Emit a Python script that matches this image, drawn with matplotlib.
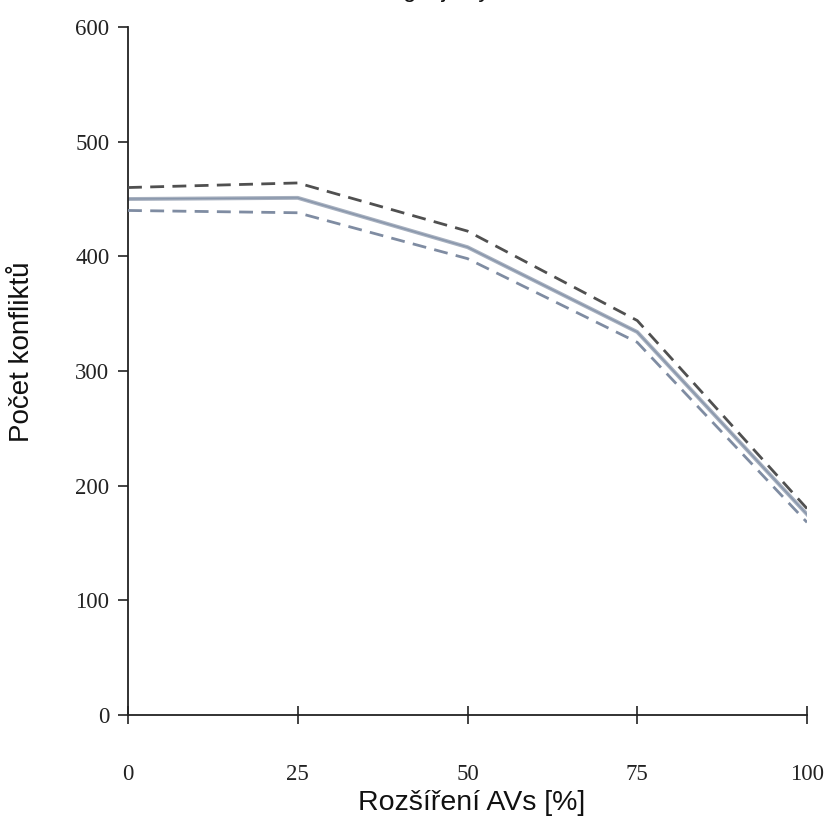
import matplotlib
matplotlib.use("Agg")
import matplotlib.pyplot as plt

# Data
x_levels = [0, 25, 50, 75, 100]
mean_vals = [450, 451, 408, 334, 175]
upper_vals = [460, 464, 422, 344, 180]
lower_vals = [440, 438, 398, 325, 168]
x_ticks = [0, 25, 50, 75, 100]
y_ticks = [0, 100, 200, 300, 400, 500, 600]

title_text = "Strategie jízdy"
xlabel = "Rozšíření AVs [%]"
ylabel = "Počet konfliktů"

W, H = 830, 819
fig = plt.figure(figsize=(W / 100, H / 100), dpi=100)
ax_l, ax_r, ax_b, ax_t = 128, 807, 715, 27
ax = fig.add_axes([ax_l / W, 1 - ax_b / H, (ax_r - ax_l) / W, (ax_b - ax_t) / H])

ax.plot(x_levels, upper_vals, color="#505050", lw=2.0, ls=(0, (5, 3)), zorder=3)
ax.plot(x_levels, mean_vals, color="#a7b0bf", lw=2.8, ls="-", zorder=2)
ax.plot(x_levels, mean_vals, color="#8896ab", lw=1.0, ls="-", zorder=2)
ax.plot(x_levels, lower_vals, color="#7f8ca2", lw=2.0, ls=(0, (5, 3)), zorder=3)

ax.set_xlim(0, 100)
ax.set_ylim(0, 600)
ax.set_xticks(x_ticks)
ax.set_yticks(y_ticks)

for s in ["top", "right"]:
    ax.spines[s].set_visible(False)
ax.spines["left"].set_color("#222222")
ax.spines["bottom"].set_color("#222222")
ax.spines["left"].set_linewidth(1.3)
ax.spines["bottom"].set_linewidth(1.3)

serif = ["Liberation Serif", "DejaVu Serif"]
ax.tick_params(axis="y", direction="out", length=7.5, width=1.2, color="#222222", pad=6)
ax.tick_params(axis="x", direction="inout", length=13, width=1.2, color="#222222", pad=29)
for lab in ax.get_xticklabels() + ax.get_yticklabels():
    lab.set_fontfamily(serif)
    lab.set_fontsize(16.5)
    lab.set_color("#222222")

sans = ["Liberation Sans", "DejaVu Sans"]
ax.set_xlabel(xlabel, fontfamily=sans, fontsize=20.5, color="#111111", va="center")
ax.xaxis.set_label_coords((472 - ax_l) / (ax_r - ax_l), -(803 - ax_b) / (ax_b - ax_t))
ax.set_ylabel(ylabel, fontfamily=sans, fontsize=20, color="#111111", va="center")
ax.yaxis.set_label_coords(-(ax_l - 22) / (ax_r - ax_l), (ax_b - 352) / (ax_b - ax_t))

fig.text(0.5, 1 + 2.5 / H, title_text, ha="center", va="baseline",
         fontfamily=sans, fontsize=17, color="#111111")

fig.savefig("out.png", dpi=100)
